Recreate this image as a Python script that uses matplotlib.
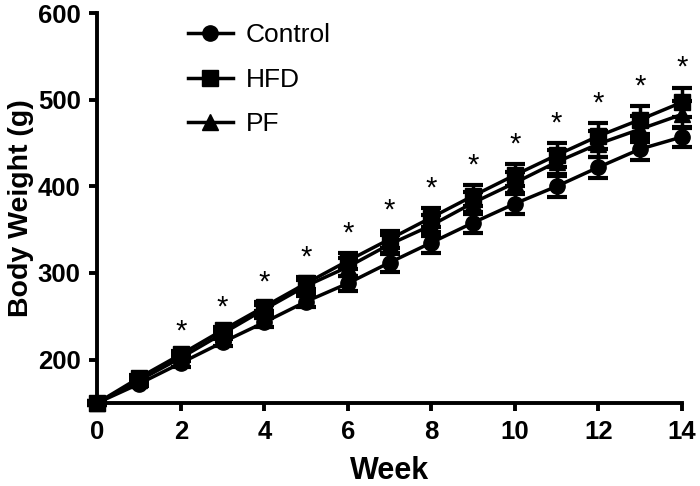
import matplotlib
matplotlib.use("Agg")
import matplotlib.pyplot as plt
from matplotlib.lines import Line2D
import numpy as np

weeks = [0, 1, 2, 3, 4, 5, 6, 7, 8, 9, 10, 11, 12, 13, 14]
control = [150, 172, 196, 220, 243, 267, 288, 312, 335, 358, 380, 400, 422, 443, 457]
control_err = [2, 3, 4, 4, 5, 6, 9, 11, 12, 12, 12, 12, 12, 13, 12]
hfd = [150, 179, 206, 234, 261, 288, 314, 339, 364, 389, 413, 436, 458, 477, 497]
hfd_err = [2, 3, 4, 4, 5, 7, 9, 10, 11, 12, 13, 14, 15, 16, 17]
pf = [150, 176, 202, 230, 258, 285, 307, 333, 355, 381, 404, 428, 449, 466, 483]
pf_err = [2, 3, 4, 4, 5, 7, 10, 11, 12, 13, 13, 14, 15, 15, 16]
sig_weeks = [2, 3, 4, 5, 6, 7, 8, 9, 10, 11, 12, 13, 14]

plt.rcParams['font.family'] = ['Liberation Sans', 'DejaVu Sans']

fig = plt.figure(figsize=(7, 4.86), dpi=100)
ax = fig.add_axes([0.139, 0.171, 0.835, 0.802])

series = [("Control", control, control_err, "o", 11),
          ("HFD", hfd, hfd_err, "s", 11),
          ("PF", pf, pf_err, "^", 12)]
handles = []
for name, vals, errs, mk, ms in series:
    ax.errorbar(weeks, vals, yerr=errs, color="black", marker=mk,
                markersize=ms, linewidth=2.5, elinewidth=2.5,
                capsize=7, capthick=3, clip_on=False, zorder=3)
    handles.append(Line2D([], [], color="black", marker=mk, markersize=ms,
                          linewidth=2.5, label=name))

for w in sig_weeks:
    i = weeks.index(w)
    ax.annotate("*", (w, hfd[i] + hfd_err[i]), xytext=(0, 4), textcoords="offset points",
                ha="center", va="bottom", fontsize=21, color="black")

ax.set_xlim(0, 14)
ax.set_ylim(150, 600)
ax.set_xticks([0, 2, 4, 6, 8, 10, 12, 14])
ax.set_yticks([200, 300, 400, 500, 600])
for s in ["top", "right"]:
    ax.spines[s].set_visible(False)
for s in ["left", "bottom"]:
    ax.spines[s].set_linewidth(2.8)
ax.tick_params(axis="both", width=2.8, length=6, labelsize=18.5, pad=6)
for lab in ax.get_xticklabels() + ax.get_yticklabels():
    lab.set_fontweight("bold")
ax.set_xlabel("Week", fontsize=22, fontweight="bold", labelpad=9)
ax.set_ylabel("Body Weight (g)", fontsize=20.5, fontweight="bold", labelpad=3)

leg = ax.legend(handles=handles, loc="upper left", bbox_to_anchor=(0.114, 1.035),
                frameon=False, fontsize=19, handlelength=1.7, labelspacing=0.78,
                handletextpad=0.5)

fig.savefig("out.png", dpi=100)
